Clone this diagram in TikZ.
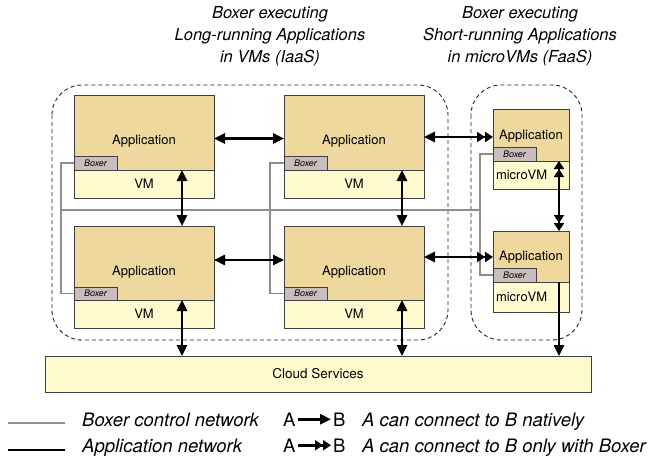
\documentclass[tikz,border=0pt]{standalone}
\usepackage{fontspec}
\setmainfont{TeX Gyre Heros}
\usetikzlibrary{arrows.meta}
\definecolor{appfill}{RGB}{238,216,158}
\definecolor{vmfill}{RGB}{255,249,206}
\definecolor{boxerfill}{RGB}{201,190,189}
\definecolor{ctrlgray}{RGB}{145,140,137}
\tikzset{
  sgl/.tip={Triangle[length=11pt,width=10pt]},
  dbl/.tip={Triangle[length=8pt,width=10pt] Triangle[length=8pt,width=10pt]},
}
\begin{document}
\begin{tikzpicture}[x=1pt, y=-1pt,
  zone/.style={draw=black!85, line width=0.9pt, dash pattern=on 4pt off 3pt, rounded corners=30pt},
  appbox/.style={draw=black!75, line width=0.8pt, fill=appfill, anchor=north west, inner sep=0pt, outer sep=0pt},
  vmbox/.style={draw=black!75, line width=0.8pt, fill=vmfill, anchor=north west, inner sep=0pt, outer sep=0pt, font=\fontsize{13}{15}\selectfont},
  tabbox/.style={draw=black!75, line width=0.8pt, fill=boxerfill, anchor=north west, inner sep=0pt, outer sep=0pt, minimum width=43pt, minimum height=14pt, font=\fontsize{9}{10}\selectfont\itshape},
  lbl/.style={font=\fontsize{13}{15}\selectfont, inner sep=0pt},
  ctrl/.style={draw=ctrlgray, line width=1.3pt},
  net/.style={draw=black, line width=2.5pt},
  ttl/.style={align=center, font=\fontsize{16.5}{22}\selectfont\itshape},
  legtxt/.style={anchor=base west, font=\fontsize{18.5}{22}\selectfont\itshape, inner sep=0pt},
  legab/.style={anchor=base west, font=\fontsize{18.5}{22}\selectfont, inner xsep=2pt, inner ysep=0pt}]
\fill[white] (0,0) rectangle (652,461);
\useasboundingbox (0,0) rectangle (652,461);

\node[ttl] (ttlL) at (270,36) {Boxer executing\\Long-running Applications\\in VMs (IaaS)};
\node[ttl] (ttlR) at (520,36) {Boxer executing\\Short-running Applications\\in microVMs (FaaS)};

\draw[zone] (52,85) rectangle (448,340);
\draw[zone] (471,85) rectangle (582,340);

\node[appbox, minimum width=140pt, minimum height=75pt] (appA) at (74,95) {};
\node[vmbox, minimum width=140pt, minimum height=28pt] (vmA) at (74,170) {VM};
\node[tabbox] (tabA) at (74,156) {Boxer};
\node[lbl] (txtA) at (144,141) {Application};

\node[appbox, minimum width=140pt, minimum height=75pt] (appB) at (284,95) {};
\node[vmbox, minimum width=140pt, minimum height=28pt] (vmB) at (284,170) {VM};
\node[tabbox] (tabB) at (284,156) {Boxer};
\node[lbl] (txtB) at (354,141) {Application};

\node[appbox, minimum width=140pt, minimum height=74pt] (appC) at (74,226) {};
\node[vmbox, minimum width=140pt, minimum height=28pt] (vmC) at (74,300) {VM};
\node[tabbox, minimum height=13pt] (tabC) at (74,287) {Boxer};
\node[lbl] (txtC) at (144,272) {Application};

\node[appbox, minimum width=140pt, minimum height=74pt] (appD) at (284,226) {};
\node[vmbox, minimum width=140pt, minimum height=28pt] (vmD) at (284,300) {VM};
\node[tabbox, minimum height=13pt] (tabD) at (284,287) {Boxer};
\node[lbl] (txtD) at (354,272) {Application};

\node[appbox, minimum width=76pt, minimum height=52pt] (appE) at (493,109) {};
\node[vmbox, minimum width=76pt, minimum height=28pt, text width=70pt, inner xsep=3pt, align=left] (vmE) at (493,161) {microVM};
\node[tabbox] (tabE) at (493,147) {Boxer};
\node[lbl] (txtE) at (531,136) {Application};

\node[appbox, minimum width=76pt, minimum height=51pt] (appF) at (493,231) {};
\node[vmbox, minimum width=76pt, minimum height=30pt, text width=70pt, inner xsep=3pt, align=left] (vmF) at (493,282) {microVM};
\node[tabbox] (tabF) at (493,268) {Boxer};
\node[lbl] (txtF) at (531,257) {Application};

\node[vmbox, minimum width=546pt, minimum height=36pt, font=\fontsize{13.5}{16}\selectfont] (cloud) at (45,356) {Cloud Services};

\coordinate (busL) at (61,210);
\coordinate (busR) at (480,210);
\draw[ctrl] (tabA.west) -- ++(-13,0) |- (tabC.west);
\draw[ctrl] (tabB.west) -- ++(-14,0) |- (tabD.west);
\draw[ctrl] (tabE.west) -- ++(-13,0) |- (tabF.west);
\draw[ctrl] (busL) -- (busR);

\draw[net, {sgl}-{sgl}] ([yshift=-6pt]appA.east) -- ([yshift=-6pt]appB.west);
\draw[net, {sgl}-{dbl}] ([yshift=-4.5pt]appB.east) -- ([yshift=-4.5pt]appB.east -| appE.west);
\draw[net, {sgl}-{sgl}] ([yshift=3pt]appC.east) -- ([yshift=3pt]appD.west);
\draw[net, {sgl}-{dbl}] ([yshift=6pt]appD.east) -- ([yshift=6pt]appD.east -| appF.west);
\draw[net, {sgl}-{sgl}] ([xshift=38pt]appA.south) -- ([xshift=38pt]appC.north);
\draw[net, {sgl}-{sgl}] ([xshift=48pt]appB.south) -- ([xshift=48pt]appD.north);
\draw[net, {dbl}-{dbl}] ([xshift=28pt]vmE.north) -- ([xshift=28pt]appF.north);
\draw[net, {sgl}-{sgl}] ([xshift=38pt]vmC.north) -- ([xshift=38pt]vmC.north |- cloud.north);
\draw[net, {sgl}-{sgl}] ([xshift=48pt]vmD.north) -- ([xshift=48pt]vmD.north |- cloud.north);
\draw[net, -{sgl}] ([xshift=28pt]vmF.north) -- ([xshift=28pt]vmF.north |- cloud.north);

\draw[ctrl] (8,423) -- (65,423);
\draw[net, line width=2.8pt] (8,450) -- (65,450);
\node[legtxt] (legCtrl) at (82,426) {Boxer control network};
\node[legtxt] (legApp) at (82,452) {Application network};
\node[legab] (legA1) at (281,426) {A};
\node[legab] (legB1) at (331,426) {B};
\node[legab] (legA2) at (281,452) {A};
\node[legab] (legB2) at (331,452) {B};
\draw[net, -{sgl}] (legA1.east) -- (legB1.west);
\draw[net, -{dbl}] (legA2.east) -- (legB2.west);
\node[legtxt] (legNat) at (362,426) {A can connect to B natively};
\node[legtxt] (legBox) at (362,452) {A can connect to B only with Boxer};
\end{tikzpicture}
\end{document}
